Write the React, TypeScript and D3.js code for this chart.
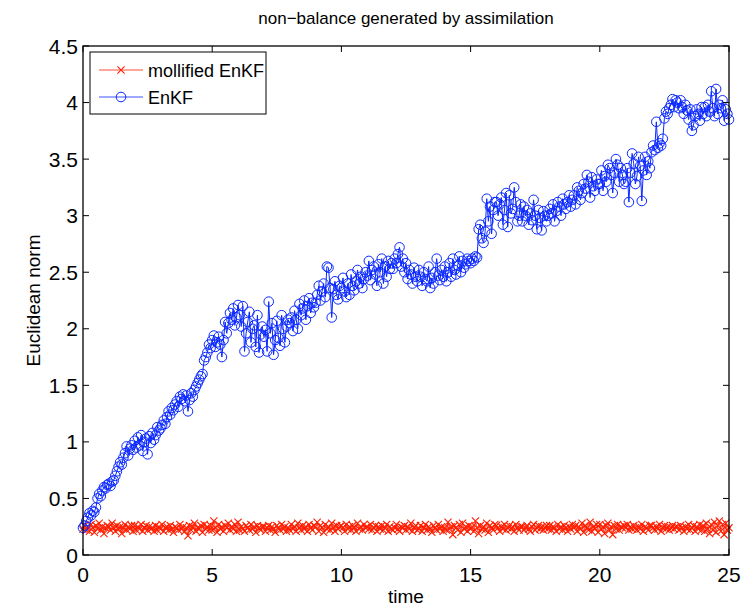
import React from "react";
import * as d3 from "d3";

const title = "non−balance generated by assimilation";
const xLabel = "time";
const yLabel = "Euclidean norm";
const xTicks = [0, 5, 10, 15, 20, 25];
const yTicks = [0, 0.5, 1, 1.5, 2, 2.5, 3, 3.5, 4, 4.5];
const seriesNames = ["mollified EnKF", "EnKF"];
const timeStep = 0.0625;

const mollified = [
  0.23,0.26,0.22,0.25,0.21,0.27,0.24,0.20,0.26,0.23,0.28,0.22,0.25,0.19,0.24,0.26,
  0.25,0.22,0.28,0.24,0.21,0.26,0.23,0.25,0.19,0.24,0.27,0.22,0.25,0.23,0.26,0.21,
  0.26,0.22,0.25,0.23,0.27,0.21,0.24,0.26,0.22,0.25,0.23,0.24,0.21,0.26,0.22,0.25,
  0.23,0.27,0.21,0.24,0.25,0.22,0.26,0.23,0.20,0.25,0.24,0.22,0.27,0.23,0.25,0.21,
  0.24,0.17,0.26,0.22,0.25,0.28,0.21,0.24,0.23,0.26,0.20,0.27,0.23,0.25,0.22,0.26,
  0.22,0.30,0.24,0.20,0.27,0.23,0.25,0.21,0.26,0.24,0.28,0.22,0.25,0.23,0.27,0.21,
  0.29,0.22,0.25,0.23,0.21,0.26,0.24,0.22,0.27,0.23,0.25,0.20,0.26,0.24,0.22,0.25,
  0.25,0.21,0.24,0.26,0.22,0.25,0.23,0.20,0.26,0.24,0.22,0.27,0.23,0.25,0.21,0.24,
  0.22,0.27,0.23,0.25,0.21,0.28,0.24,0.22,0.26,0.23,0.25,0.21,0.27,0.24,0.22,0.26,
  0.25,0.29,0.21,0.26,0.24,0.20,0.27,0.23,0.25,0.22,0.28,0.24,0.21,0.26,0.23,0.25,
  0.26,0.24,0.21,0.27,0.23,0.25,0.22,0.26,0.24,0.21,0.28,0.23,0.25,0.22,0.27,0.24,
  0.25,0.23,0.27,0.22,0.24,0.26,0.21,0.25,0.23,0.26,0.22,0.24,0.27,0.21,0.25,0.23,
  0.22,0.24,0.27,0.23,0.21,0.25,0.24,0.26,0.22,0.25,0.23,0.28,0.21,0.24,0.26,0.22,
  0.23,0.26,0.21,0.24,0.27,0.22,0.25,0.23,0.20,0.26,0.24,0.22,0.27,0.23,0.25,0.21,
  0.24,0.22,0.29,0.23,0.25,0.18,0.26,0.24,0.22,0.27,0.20,0.28,0.23,0.25,0.21,0.26,
  0.23,0.25,0.21,0.30,0.24,0.19,0.26,0.23,0.25,0.22,0.28,0.20,0.26,0.24,0.22,0.27,
  0.26,0.24,0.21,0.25,0.23,0.27,0.22,0.24,0.26,0.23,0.25,0.21,0.27,0.24,0.22,0.25,
  0.25,0.22,0.24,0.26,0.23,0.21,0.25,0.27,0.22,0.24,0.26,0.23,0.25,0.22,0.24,0.26,
  0.23,0.26,0.22,0.25,0.24,0.21,0.27,0.23,0.25,0.22,0.26,0.24,0.21,0.25,0.23,0.27,
  0.24,0.26,0.21,0.25,0.23,0.28,0.20,0.26,0.24,0.22,0.29,0.21,0.25,0.23,0.27,0.20,
  0.27,0.23,0.25,0.19,0.26,0.28,0.22,0.25,0.18,0.26,0.23,0.27,0.22,0.25,0.24,0.26,
  0.24,0.27,0.22,0.25,0.23,0.26,0.24,0.22,0.25,0.23,0.27,0.21,0.25,0.24,0.22,0.26,
  0.26,0.24,0.22,0.25,0.23,0.27,0.21,0.24,0.26,0.23,0.25,0.22,0.24,0.26,0.23,0.25,
  0.25,0.22,0.26,0.24,0.21,0.25,0.23,0.27,0.22,0.24,0.26,0.21,0.25,0.23,0.27,0.22,
  0.26,0.21,0.28,0.23,0.19,0.27,0.22,0.29,0.20,0.26,0.30,0.21,0.27,0.18,0.28,0.22,
  0.24,
];

const enkf = [
  0.24,0.26,0.30,0.33,0.37,0.35,0.39,0.38,0.42,0.50,0.54,0.52,0.57,0.60,0.59,0.62,
  0.63,0.61,0.65,0.66,0.70,0.74,0.78,0.82,0.80,0.86,0.90,0.96,0.88,0.94,0.97,0.93,
  1.01,0.95,1.04,0.97,1.06,0.92,1.00,1.03,0.89,1.05,0.99,1.08,1.02,1.06,1.13,1.10,
  1.12,1.15,1.19,1.16,1.22,1.27,1.24,1.30,1.28,1.33,1.36,1.31,1.40,1.38,1.42,1.36,
  1.41,1.27,1.37,1.43,1.40,1.46,1.49,1.52,1.55,1.58,1.60,1.72,1.75,1.79,1.86,1.83,
  1.90,1.94,1.84,1.88,1.93,1.86,1.75,1.90,2.06,1.96,2.05,2.14,2.08,2.18,2.03,2.10,
  2.21,2.12,2.02,2.20,1.80,1.96,2.06,2.15,1.88,2.00,2.03,1.84,2.12,1.79,1.95,2.02,
  1.93,1.99,1.80,2.24,1.96,2.05,1.77,1.90,2.07,1.92,1.85,2.12,2.00,1.88,2.02,2.08,
  2.05,2.10,1.98,2.16,2.08,2.00,2.22,2.12,2.18,2.25,2.08,2.20,2.27,2.14,2.23,2.19,
  2.23,2.30,2.38,2.25,2.33,2.40,2.28,2.55,2.54,2.36,2.10,2.35,2.42,2.30,2.26,2.38,
  2.36,2.45,2.33,2.28,2.40,2.30,2.48,2.38,2.34,2.42,2.52,2.40,2.46,2.36,2.44,2.50,
  2.47,2.60,2.43,2.52,2.55,2.48,2.38,2.57,2.50,2.62,2.40,2.55,2.46,2.60,2.53,2.58,
  2.53,2.62,2.58,2.66,2.72,2.55,2.62,2.50,2.58,2.44,2.52,2.48,2.40,2.54,2.46,2.42,
  2.52,2.46,2.38,2.50,2.44,2.42,2.55,2.36,2.45,2.40,2.50,2.62,2.47,2.43,2.52,2.46,
  2.55,2.42,2.50,2.58,2.46,2.62,2.52,2.48,2.56,2.64,2.50,2.60,2.54,2.57,2.62,2.60,
  2.58,2.62,2.60,2.64,2.63,2.88,2.92,2.80,2.76,2.86,3.15,2.95,3.08,2.84,3.05,3.12,
  3.12,3.00,3.10,3.16,2.92,3.05,3.20,2.90,3.18,3.02,3.06,3.25,3.12,2.95,3.00,3.10,
  2.95,3.08,3.00,3.05,2.92,3.02,2.96,3.14,3.00,2.88,3.05,2.98,2.87,3.04,3.00,2.95,
  3.00,3.06,3.02,3.10,2.95,3.04,3.12,3.08,3.00,3.15,3.10,3.06,3.12,3.18,3.08,3.14,
  3.18,3.10,3.25,3.22,3.14,3.20,3.28,3.24,3.36,3.30,3.16,3.34,3.26,3.22,3.32,3.28,
  3.28,3.40,3.22,3.35,3.30,3.45,3.42,3.36,3.20,3.38,3.50,3.45,3.30,3.42,3.36,3.28,
  3.30,3.42,3.12,3.38,3.55,3.46,3.28,3.35,3.52,3.44,3.13,3.40,3.52,3.36,3.48,3.42,
  3.56,3.62,3.58,3.83,3.60,3.64,3.62,3.68,3.86,3.92,3.90,3.95,3.98,4.03,3.96,4.02,
  4.00,3.95,4.02,3.96,3.90,3.98,3.93,3.85,3.94,3.75,3.80,3.88,3.94,3.90,3.84,3.96,
  3.90,3.96,3.88,3.98,3.92,4.10,3.95,3.88,4.12,3.90,3.98,3.95,4.02,3.84,3.94,3.90,
  3.85,
];

const RED = "#ff1e00";
const BLUE = "#0a28ff";
const FONT = "'Liberation Sans', Arial, Helvetica, sans-serif";

export default function App() {
  const W = 748, H = 608;
  const left = 83, right = 729, top = 46, bottom = 555;
  const x = d3.scaleLinear().domain([0, 25]).range([left, right]);
  const y = d3.scaleLinear().domain([0, 4.5]).range([bottom, top]);
  const tOf = (i: number) => i * timeStep;
  const line = d3.line<number>().x((_, i) => x(tOf(i))).y((d) => y(d));
  const tick = 6;
  const ms = 3.6;

  const xMark = (cx: number, cy: number, k: string) => (
    <path key={k} d={`M${cx - ms},${cy - ms}L${cx + ms},${cy + ms}M${cx - ms},${cy + ms}L${cx + ms},${cy - ms}`} stroke={RED} strokeWidth={1.1} fill="none" />
  );

  const legX = 90, legY = 52, legW = 176, legH = 62;

  return (
    <svg width={W} height={H} style={{ position: "absolute", left: 0, top: 0, background: "#fff" }} fontFamily={FONT}>
      <rect x={0} y={0} width={W} height={H} fill="#fff" />
      <text x={(left + right) / 2} y={24} textAnchor="middle" fontSize={17}>{title}</text>

      <path d={line(mollified) || ""} fill="none" stroke={RED} strokeWidth={0.8} />
      {mollified.map((d, i) => xMark(x(tOf(i)), y(d), "m" + i))}

      <path d={line(enkf) || ""} fill="none" stroke={BLUE} strokeWidth={1} />
      {enkf.map((d, i) => (
        <circle key={"e" + i} cx={x(tOf(i))} cy={y(d)} r={4.8} fill="none" stroke={BLUE} strokeWidth={1} />
      ))}

      <rect x={left} y={top} width={right - left} height={bottom - top} fill="none" stroke="#000" strokeWidth={1.3} />
      {xTicks.map((t) => (
        <g key={"xt" + t}>
          <line x1={x(t)} x2={x(t)} y1={bottom} y2={bottom - tick} stroke="#000" strokeWidth={1} />
          <line x1={x(t)} x2={x(t)} y1={top} y2={top + tick} stroke="#000" strokeWidth={1} />
          <text x={x(t)} y={582} textAnchor="middle" fontSize={21}>{t}</text>
        </g>
      ))}
      {yTicks.map((t) => (
        <g key={"yt" + t}>
          <line x1={left} x2={left + tick} y1={y(t)} y2={y(t)} stroke="#000" strokeWidth={1} />
          <line x1={right} x2={right - tick} y1={y(t)} y2={y(t)} stroke="#000" strokeWidth={1} />
          <text x={78} y={y(t) + 7.5} textAnchor="end" fontSize={21}>{t}</text>
        </g>
      ))}
      <text x={(left + right) / 2} y={603} textAnchor="middle" fontSize={19}>{xLabel}</text>
      <text transform={`translate(40,${(top + bottom) / 2}) rotate(-90)`} textAnchor="middle" fontSize={19}>{yLabel}</text>

      <rect x={legX} y={legY} width={legW} height={legH} fill="#fff" stroke="#000" strokeWidth={1} />
      <line x1={99} x2={143} y1={70} y2={70} stroke={RED} strokeWidth={0.8} />
      {xMark(121, 70, "lx")}
      <text x={148} y={77} fontSize={18}>{seriesNames[0]}</text>
      <line x1={99} x2={143} y1={97} y2={97} stroke={BLUE} strokeWidth={0.8} />
      <circle cx={121} cy={97} r={4.8} fill="none" stroke={BLUE} strokeWidth={1} />
      <text x={148} y={104} fontSize={18}>{seriesNames[1]}</text>
    </svg>
  );
}
